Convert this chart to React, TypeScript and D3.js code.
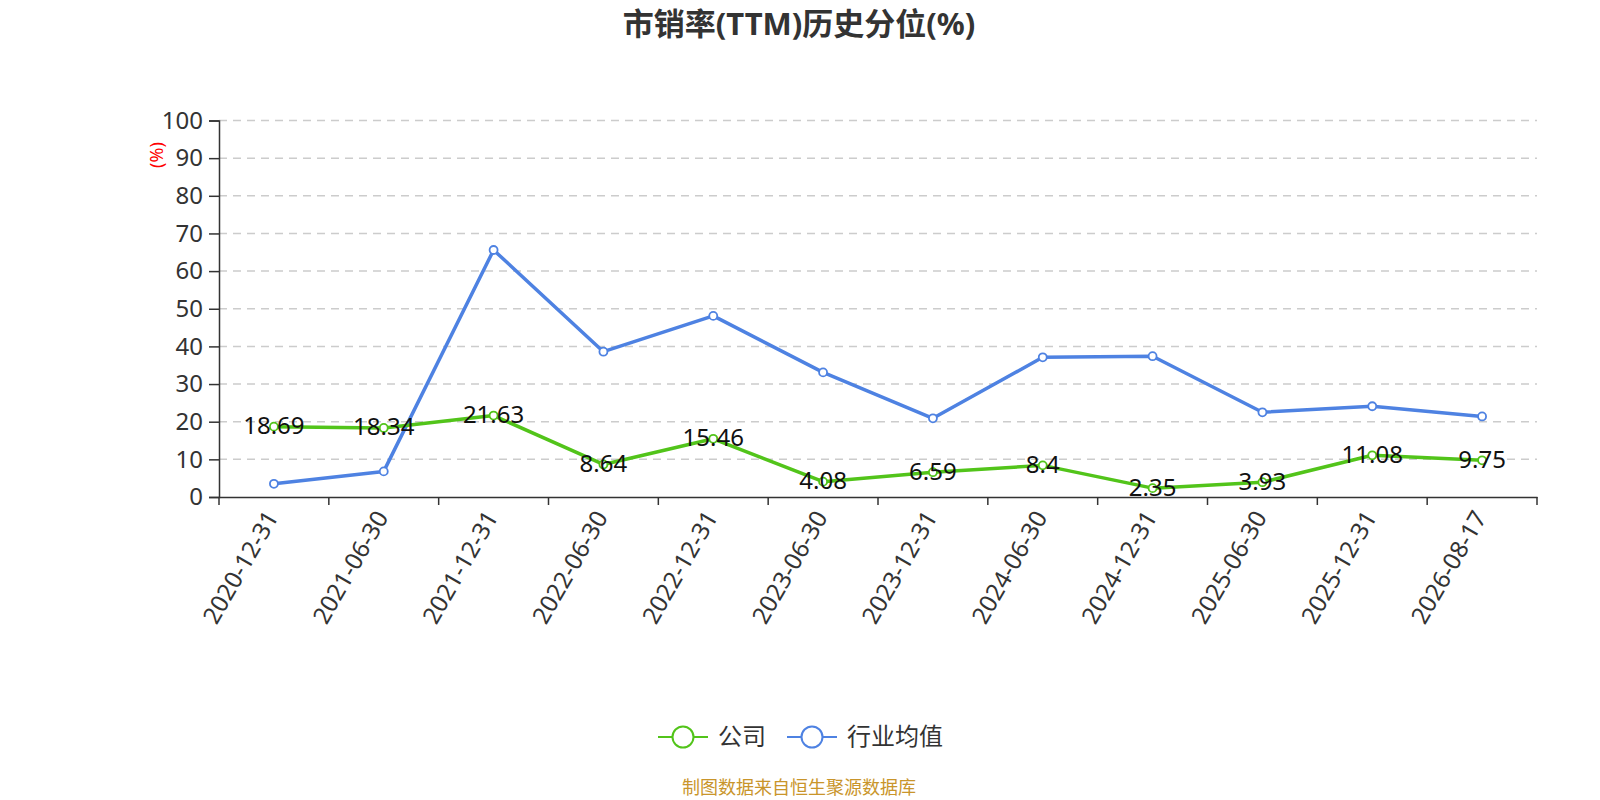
import { useEffect, useRef } from "react";
import * as d3 from "d3";

const dates = [
  "2020-12-31", "2021-06-30", "2021-12-31", "2022-06-30", "2022-12-31", "2023-06-30",
  "2023-12-31", "2024-06-30", "2024-12-31", "2025-06-30", "2025-12-31", "2026-08-17",
];
const company = [18.69, 18.34, 21.63, 8.64, 15.46, 4.08, 6.59, 8.4, 2.35, 3.93, 11.08, 9.75];
const industry = [3.5, 6.8, 65.6, 38.6, 48.1, 33.1, 20.9, 37.1, 37.4, 22.5, 24.1, 21.4];
const yTicks = [0, 10, 20, 30, 40, 50, 60, 70, 80, 90, 100];

const GREEN = "#52c41a";
const BLUE = "#4e82e2";
const FONT = "'Noto Sans', 'Noto Sans CJK SC', sans-serif";

export default function App() {
  const ref = useRef<SVGSVGElement | null>(null);

  useEffect(() => {
    if (!ref.current) return;
    document.body.style.margin = "0";
    document.body.style.overflow = "hidden";
    const width = 1600;
    const height = 800;
    const left = 219, right = 1537, top = 120.5, bottom = 497;

    const svg = d3.select(ref.current);
    svg.selectAll("*").remove();
    svg.attr("width", width).attr("height", height).style("font-family", FONT);

    const x = d3.scaleBand<string>().domain(dates).range([left, right]);
    const y = d3.scaleLinear().domain([0, 100]).range([bottom, top]);
    const cx = (d: string) => (x(d) ?? 0) + x.bandwidth() / 2;

    // title
    svg.append("text")
      .attr("x", 799).attr("y", 35)
      .attr("text-anchor", "middle")
      .attr("font-size", 31).attr("font-weight", "bold").attr("fill", "#333")
      .text("市销率(TTM)历史分位(%)");

    // grid lines
    svg.append("g").selectAll("line")
      .data(yTicks.filter((t) => t > 0))
      .enter().append("line")
      .attr("x1", left).attr("x2", right)
      .attr("y1", (d) => y(d)).attr("y2", (d) => y(d))
      .attr("stroke", "#ccc").attr("stroke-width", 1.5)
      .attr("stroke-dasharray", "8,6");

    // y axis
    const yAxis = svg.append("g").attr("transform", `translate(${left},0)`)
      .call(d3.axisLeft(y).tickValues(yTicks).tickSize(10).tickPadding(6));
    yAxis.select(".domain").attr("stroke", "#333").attr("stroke-width", 1.5);
    yAxis.selectAll(".tick line").attr("stroke", "#333").attr("stroke-width", 1.5);
    yAxis.selectAll(".tick text").attr("font-size", 24).attr("fill", "#333").attr("font-family", FONT);

    svg.append("text")
      .attr("transform", `translate(157,155) rotate(-90)`)
      .attr("text-anchor", "middle")
      .attr("dy", "0.35em")
      .attr("font-size", 18).attr("fill", "red")
      .text("(%)");

    // x axis
    const xAxis = svg.append("g").attr("transform", `translate(0,${bottom})`)
      .call(d3.axisBottom(x).tickSize(0).tickPadding(0));
    xAxis.select(".domain").attr("stroke", "#333").attr("stroke-width", 1.5);
    xAxis.selectAll(".tick text")
      .attr("font-size", 24).attr("fill", "#333").attr("font-family", FONT)
      .attr("text-anchor", "end")
      .attr("dy", "0.35em")
      .attr("transform", "translate(-2,16) rotate(-60)");
    const bounds = dates.map((d) => x(d) ?? 0).concat([right]);
    svg.append("g").selectAll("line")
      .data(bounds).enter().append("line")
      .attr("x1", (d) => d).attr("x2", (d) => d)
      .attr("y1", bottom).attr("y2", bottom + 8)
      .attr("stroke", "#333").attr("stroke-width", 1.5);

    const line = d3.line<number>()
      .x((_, i) => cx(dates[i]))
      .y((d) => y(d));

    const series = [
      { values: industry, color: BLUE, labels: false },
      { values: company, color: GREEN, labels: true },
    ];
    series.forEach((s) => {
      const g = svg.append("g");
      g.append("path").datum(s.values)
        .attr("d", line).attr("fill", "none")
        .attr("stroke", s.color).attr("stroke-width", 3.5)
        .attr("stroke-linejoin", "round");
      g.selectAll("circle").data(s.values).enter().append("circle")
        .attr("cx", (_, i) => cx(dates[i])).attr("cy", (d) => y(d))
        .attr("r", 4).attr("fill", "#fff")
        .attr("stroke", s.color).attr("stroke-width", 1.8);
      if (s.labels) {
        g.selectAll("text").data(s.values).enter().append("text")
          .attr("x", (_, i) => cx(dates[i])).attr("y", (d) => y(d) - 1)
          .attr("dy", "0.35em")
          .attr("text-anchor", "middle")
          .attr("font-size", 24).attr("fill", "#111")
          .text((d) => String(d));
      }
    });

    // legend
    const legend = [
      { name: "公司", color: GREEN, x: 658, textX: 718 },
      { name: "行业均值", color: BLUE, x: 787, textX: 847 },
    ];
    legend.forEach((l) => {
      const g = svg.append("g").attr("transform", `translate(${l.x},737)`);
      g.append("line").attr("x1", 0).attr("x2", 50).attr("y1", 0).attr("y2", 0)
        .attr("stroke", l.color).attr("stroke-width", 2);
      g.append("circle").attr("cx", 25).attr("cy", 0).attr("r", 10.5)
        .attr("fill", "#fff").attr("stroke", l.color).attr("stroke-width", 2);
      g.append("text").attr("x", l.textX - l.x).attr("y", 0).attr("dy", "0.35em")
        .attr("font-size", 24).attr("fill", "#333").text(l.name);
    });

    svg.append("text")
      .attr("x", 799).attr("y", 794)
      .attr("text-anchor", "middle")
      .attr("font-size", 18).attr("fill", "#c9952b")
      .text("制图数据来自恒生聚源数据库");
  }, []);

  return <svg ref={ref} style={{ display: "block" }}></svg>;
}
